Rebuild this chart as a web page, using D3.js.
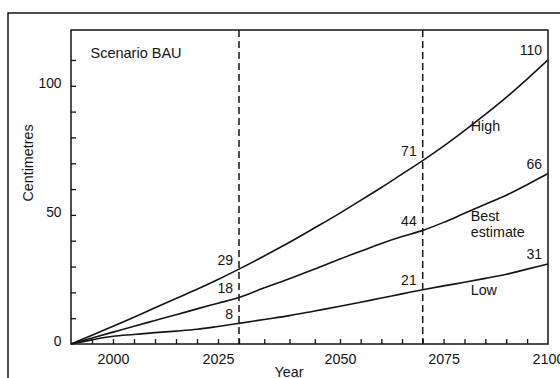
<!DOCTYPE html>
<html>
<head>
<meta charset="utf-8">
<script src="https://cdn.jsdelivr.net/npm/d3@7"></script>
<style>
  body { margin: 0; background: #fff; }
  svg { display: block; }
  text { font-family: "Liberation Sans", Arial, Helvetica, sans-serif; fill: #141414; }
</style>
</head>
<body>
<svg id="chart" width="560" height="378"></svg>
<script>
// Projected sea-level rise (cm), Scenario BAU
const years = [1990, 1995, 2000, 2005, 2010, 2015, 2020, 2025, 2030, 2035, 2040, 2045,
               2050, 2055, 2060, 2065, 2070, 2075, 2080, 2085, 2090, 2095, 2100];
const high  = [0, 3.4, 6.9, 10.4, 14, 17.6, 21.2, 25, 29, 34.1, 39.4, 45,
               50.7, 55.6, 60.6, 65.8, 71, 76.6, 82.6, 88.9, 95.5, 102.6, 110];
const best  = [0, 2.3, 4.6, 6.9, 9.1, 11.3, 13.6, 15.8, 18, 21.8, 25.3, 29,
               32.9, 35.9, 38.9, 41.6, 44, 47.1, 50.6, 54.1, 57.6, 61.7, 66];
const low   = [0, 1.6, 3.0, 3.7, 4.4, 5.0, 5.7, 6.8, 8, 9.5, 11, 12.8,
               14.6, 16.2, 17.8, 19.4, 21, 22.5, 23.9, 25.4, 27, 29, 31];

const seriesNames = ["High", "Best estimate", "Low"];
const xTickLabels = [2000, 2025, 2050, 2075, 2100];
const xMinorTicks = d3.range(1995, 2100, 5);
const yTickLabels = [0, 50, 100];
const yMinorTicks = d3.range(10, 120, 10);
const markerYears = [2030, 2070];
const labelYears = [2030, 2070, 2100];

const svg = d3.select("#chart");
const plot = { left: 71, top: 30, right: 548, bottom: 344 };

// Time axis drawn in sections, as on the printed figure
const x = d3.scaleLinear()
  .domain([1990, 2030, 2050, 2070, 2100])
  .range([plot.left, 239, 340, 422.7, plot.right]);
const y = d3.scaleLinear()
  .domain([0, 121.6])
  .range([plot.bottom, plot.top]);

const ink = "#141414";
const fontStack = '"Liberation Sans", Arial, sans-serif';

// outer panel border
svg.append("rect")
  .attr("x", 8).attr("y", 13).attr("width", 600).attr("height", 400)
  .attr("fill", "none").attr("stroke", ink).attr("stroke-width", 1.5);

// plot frame
svg.append("rect")
  .attr("x", plot.left).attr("y", plot.top)
  .attr("width", plot.right - plot.left).attr("height", plot.bottom - plot.top)
  .attr("fill", "none").attr("stroke", ink).attr("stroke-width", 1.5);

// minor ticks (pointing inward)
svg.append("g")
  .attr("transform", `translate(0,${plot.bottom})`)
  .call(d3.axisBottom(x).tickValues(xMinorTicks).tickSize(-5).tickFormat(""))
  .call(g => g.select(".domain").remove())
  .call(g => g.selectAll("line").attr("stroke", ink).attr("stroke-width", 1.3));

svg.append("g")
  .attr("transform", `translate(${plot.left},0)`)
  .call(d3.axisLeft(y).tickValues(yMinorTicks).tickSize(-5).tickFormat(""))
  .call(g => g.select(".domain").remove())
  .call(g => g.selectAll("line").attr("stroke", ink).attr("stroke-width", 1.3));

// labelled ticks
svg.append("g")
  .attr("transform", `translate(0,${plot.bottom})`)
  .call(d3.axisBottom(x).tickValues(xTickLabels).tickSize(0).tickPadding(9.5).tickFormat(d3.format("d")))
  .call(g => g.select(".domain").remove())
  .call(g => g.selectAll("text").attr("font-size", 14.3).attr("fill", ink)
    .style("font-family", fontStack));

svg.append("g")
  .attr("transform", `translate(${plot.left},0)`)
  .call(d3.axisLeft(y).tickValues(yTickLabels).tickSize(0).tickPadding(9.5).tickFormat(d3.format("d")))
  .call(g => g.select(".domain").remove())
  .call(g => g.selectAll("text").attr("font-size", 13.8).attr("dy", "0.1em").attr("fill", ink)
    .style("font-family", fontStack));

// dashed reference years
svg.append("g").selectAll("line")
  .data(markerYears)
  .join("line")
  .attr("x1", d => x(d)).attr("x2", d => x(d))
  .attr("y1", plot.top).attr("y2", plot.bottom)
  .attr("stroke", ink).attr("stroke-width", 1.5)
  .attr("stroke-dasharray", "7,4");

// projection curves
const series = [high, best, low];
const line = d3.line()
  .x((d, i) => x(years[i]))
  .y(d => y(d))
  .curve(d3.curveMonotoneX);

svg.append("g").selectAll("path")
  .data(series)
  .join("path")
  .attr("d", d => line(d))
  .attr("fill", "none")
  .attr("stroke", ink)
  .attr("stroke-width", 1.6);

// value labels at the marked years
const valueLabels = [];
series.forEach(s => {
  labelYears.forEach(yr => {
    valueLabels.push({ year: yr, value: s[years.indexOf(yr)] });
  });
});
svg.append("g").selectAll("text")
  .data(valueLabels)
  .join("text")
  .attr("x", d => x(d.year) - 6)
  .attr("y", d => y(d.value) - 4.5)
  .attr("text-anchor", "end")
  .attr("font-size", 14)
  .text(d => d3.format("d")(d.value));

// series names
const nameSpots = [
  { lines: [seriesNames[0]], year: 2081.5, value: 82.5 },
  { lines: ["Best", "estimate"], year: 2081.5, value: 47.7 },
  { lines: [seriesNames[2]], year: 2081.5, value: 19 }
];
nameSpots.forEach(n => {
  const t = svg.append("text")
    .attr("x", x(n.year))
    .attr("y", y(n.value))
    .attr("font-size", 14.3);
  n.lines.forEach((l, i) => {
    t.append("tspan")
      .attr("x", x(n.year))
      .attr("dy", i === 0 ? 0 : 16.6)
      .text(l);
  });
});

// titles
svg.append("text")
  .attr("x", 90.5).attr("y", 57.5)
  .attr("font-size", 14.5)
  .text("Scenario BAU");

svg.append("text")
  .attr("transform", "translate(33,163) rotate(-90)")
  .attr("text-anchor", "middle")
  .attr("font-size", 14.3)
  .text("Centimetres");

svg.append("text")
  .attr("x", 289).attr("y", 376.5)
  .attr("text-anchor", "middle")
  .attr("font-size", 14.3)
  .text("Year");
</script>
</body>
</html>
